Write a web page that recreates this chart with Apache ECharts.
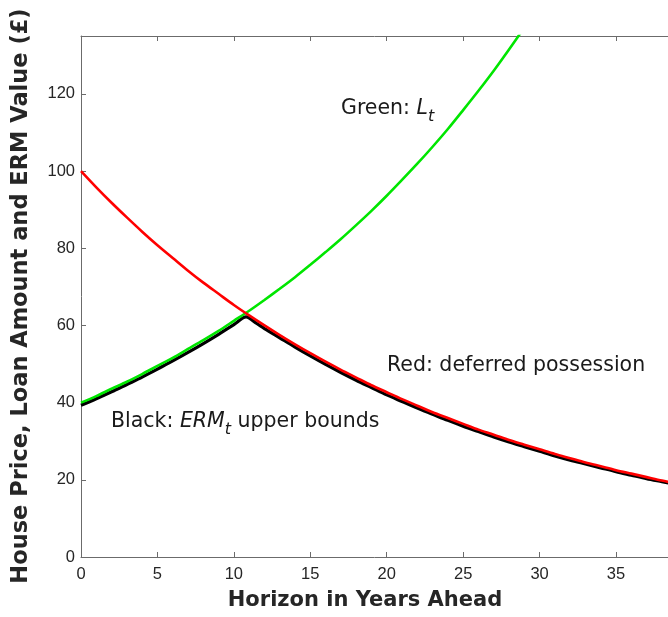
<!DOCTYPE html>
<html>
<head>
<meta charset="utf-8">
<script src="https://cdn.jsdelivr.net/npm/echarts@6/dist/echarts.min.js"></script>
<style>html,body{margin:0;padding:0;background:#fff}#c{width:668px;height:617px}</style>
</head>
<body>
<div id="c"></div>
<script>
// Values
const years = [0,1,2,3,4,5,6,7,8,9,10,11,12,13,14,15,16,17,18,19,20,21,22,23,24,25,26,27,28,29,30,31,32,33,34,35,36,37,38,39,40];
const greenLoan = [40.0,41.7,43.6,45.4,47.4,49.5,51.6,53.9,56.2,58.6,61.2,63.8,66.6,69.5,72.5,75.7,79.0,82.4,86.0,89.7,93.6,97.7,101.9,106.3,110.9,115.8,120.8,126.0,131.5,137.2,143.2];
const redDeferred = [100.0,95.8,91.8,88.0,84.3,80.8,77.5,74.2,71.1,68.2,65.3,62.6,60.0,57.5,55.1,52.8,50.6,48.5,46.5,44.5,42.7,40.9,39.2,37.5,36.0,34.5,33.0,31.7,30.3,29.1,27.9,26.7,25.6,24.5,23.5,22.5,21.6,20.7,19.8,19.0,18.2];
const blackYears = [0,1,2,3,4,5,6,7,8,9,10,10.8,11.5,12,13,14,15,16,17,18,19,20,21,22,23,24,25,26,27,28,29,30,31,32,33,34,35,36,37,38,39,40];
const blackERM = [39.3,41.0,42.8,44.7,46.6,48.7,50.8,53.0,55.3,57.7,60.2,62.2,60.5,59.2,56.8,54.4,52.1,49.9,47.8,45.8,43.9,42.0,40.3,38.6,37.0,35.4,33.9,32.5,31.1,29.8,28.6,27.4,26.2,25.1,24.1,23.1,22.1,21.2,20.3,19.5,18.7,17.9];
const xTicks = [0,5,10,15,20,25,30,35];
const yTicks = [0,20,40,60,80,100,120];

const pairs = (xs, ys) => ys.map((v, i) => [xs[i], v]);

const chart = echarts.init(document.getElementById('c'), null, {renderer: 'canvas'});
const axisColor = '#6b6b6b';
const labelFont = {color: '#262626', fontSize: 16.5, fontFamily: 'Liberation Sans'};
const xMax = 38.4; // visible end of the cropped horizontal axis
chart.setOption({
  animation: false,
  grid: {left: 81, top: 36, bottom: 60, right: 0, containLabel: false},
  xAxis: [{
    type: 'value', min: xTicks[0], max: xMax, interval: 5,
    position: 'bottom',
    axisLine: {lineStyle: {color: axisColor, width: 1}},
    axisTick: {inside: true, length: 5, lineStyle: {color: axisColor}},
    axisLabel: Object.assign({margin: 9, showMaxLabel: false}, labelFont),
    splitLine: {show: false}
  }, {
    type: 'value', min: xTicks[0], max: xMax, interval: 5,
    position: 'top',
    axisLine: {show: true, lineStyle: {color: axisColor, width: 1}},
    axisTick: {inside: true, length: 5, lineStyle: {color: axisColor}},
    axisLabel: {show: false},
    splitLine: {show: false}
  }],
  yAxis: [{
    type: 'value', min: yTicks[0], max: 135, interval: 20,
    axisLine: {show: true, lineStyle: {color: axisColor, width: 1}},
    axisTick: {inside: true, length: 5, lineStyle: {color: axisColor}},
    axisLabel: Object.assign({margin: 6, showMaxLabel: false}, labelFont),
    splitLine: {show: false}
  }],
  series: [{
    type: 'line', name: 'ERM', data: pairs(blackYears, blackERM), smooth: 0.3,
    showSymbol: false, lineStyle: {color: '#000', width: 3.2}, z: 1
  }, {
    type: 'line', name: 'Loan', data: pairs(years, greenLoan), smooth: 0.3,
    showSymbol: false, lineStyle: {color: '#00e600', width: 2.6}, z: 2
  }, {
    type: 'line', name: 'Deferred', data: pairs(years, redDeferred), smooth: 0.3,
    showSymbol: false, lineStyle: {color: '#ff0000', width: 2.6}, z: 3
  }],
  graphic: [{
    type: 'text', x: 365, y: 601,
    style: {text: 'Horizon in Years Ahead', fontSize: 21, fontWeight: 'bold', fontFamily: 'DejaVu Sans', fill: '#262626', align: 'center', verticalAlign: 'middle'}
  }, {
    type: 'text', x: 21, y: 296, rotation: Math.PI / 2,
    style: {text: 'House Price, Loan Amount and ERM Value (£)', fontSize: 22.5, fontWeight: 'bold', fontFamily: 'DejaVu Sans', fill: '#262626', align: 'center', verticalAlign: 'middle'}
  }, {
    type: 'text', x: 341, y: 109,
    style: {
      text: '{a|Green: }{i|L}{s|t}',
      verticalAlign: 'middle',
      rich: {
        a: {fontSize: 20.5, fontFamily: 'DejaVu Sans', fill: '#1a1a1a'},
        i: {fontSize: 20.5, fontFamily: 'DejaVu Sans', fontStyle: 'italic', fill: '#1a1a1a'},
        s: {fontSize: 16, fontFamily: 'DejaVu Sans', fontStyle: 'italic', fill: '#1a1a1a', padding: [16, 0, 0, 0]}
      }
    }
  }, {
    type: 'text', x: 387, y: 366,
    style: {text: 'Red: deferred possession', fontSize: 20.5, fontFamily: 'DejaVu Sans', fill: '#1a1a1a', verticalAlign: 'middle'}
  }, {
    type: 'text', x: 111, y: 422,
    style: {
      text: '{a|Black: }{i|ERM}{s|t}{a| upper bounds}',
      verticalAlign: 'middle',
      rich: {
        a: {fontSize: 20.5, fontFamily: 'DejaVu Sans', fill: '#1a1a1a'},
        i: {fontSize: 20.5, fontFamily: 'DejaVu Sans', fontStyle: 'italic', fill: '#1a1a1a'},
        s: {fontSize: 16, fontFamily: 'DejaVu Sans', fontStyle: 'italic', fill: '#1a1a1a', padding: [16, 0, 0, 0]}
      }
    }
  }]
});
</script>
</body>
</html>
